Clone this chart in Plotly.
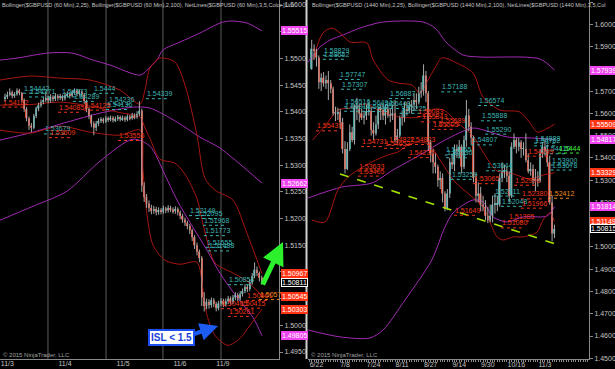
import plotly.graph_objects as go

# ================= DATA =================
# ---- Left panel: $GBPUSD 60 Min (bar index 0..107) ----
L_first_open = 1.5424
L_close = [1.5428, 1.5432, 1.5436, 1.5430, 1.5433, 1.5440, 1.5435, 1.5422, 1.5405, 1.5388,
           1.5374, 1.5370, 1.5392, 1.5406, 1.5412, 1.5418, 1.5422, 1.5426, 1.5421, 1.5428,
           1.5424, 1.5430, 1.5426, 1.5429, 1.5425, 1.5431, 1.5433, 1.5430, 1.5436, 1.5440,
           1.5434, 1.5438, 1.5432, 1.5420, 1.5405, 1.5392, 1.5378, 1.5370, 1.5378, 1.5383,
           1.5386, 1.5382, 1.5388, 1.5385, 1.5389, 1.5384, 1.5387, 1.5390, 1.5386, 1.5389,
           1.5385, 1.5391, 1.5388, 1.5393, 1.5390, 1.5396, 1.5402, 1.5262, 1.5240, 1.5228,
           1.5220, 1.5214, 1.5218, 1.5212, 1.5216, 1.5213, 1.5219, 1.5215, 1.5220, 1.5217,
           1.5214, 1.5218, 1.5212, 1.5205, 1.5198, 1.5192, 1.5186, 1.5178, 1.5165, 1.5150,
           1.5138, 1.5126, 1.5052, 1.5036, 1.5044, 1.5038, 1.5047, 1.5040, 1.5032, 1.5041,
           1.5046, 1.5039, 1.5045, 1.5050, 1.5044, 1.5052, 1.5057, 1.5050, 1.5059, 1.5064,
           1.5072, 1.5068, 1.5080, 1.5092, 1.5104, 1.5098, 1.5089, 1.5081]
L_high = [1.5434, 1.5438, 1.5444, 1.5440, 1.5437, 1.5444, 1.5443, 1.5437, 1.5425, 1.5409,
          1.5391, 1.5379, 1.5396, 1.5410, 1.5417, 1.5423, 1.5427, 1.5437, 1.5430, 1.5433,
          1.5431, 1.5435, 1.5433, 1.5434, 1.5432, 1.5436, 1.5438, 1.5437, 1.5441, 1.5444,
          1.5443, 1.5442, 1.5440, 1.5435, 1.5423, 1.5408, 1.5395, 1.5382, 1.5383, 1.5388,
          1.5390, 1.5389, 1.5392, 1.5391, 1.5393, 1.5392, 1.5391, 1.5394, 1.5393, 1.5393,
          1.5392, 1.5395, 1.5394, 1.5398, 1.5397, 1.5401, 1.5420, 1.5406, 1.5268, 1.5246,
          1.5234, 1.5226, 1.5224, 1.5222, 1.5221, 1.5220, 1.5224, 1.5222, 1.5225, 1.5224,
          1.5221, 1.5223, 1.5221, 1.5215, 1.5209, 1.5202, 1.5196, 1.5190, 1.5181, 1.5169,
          1.5155, 1.5142, 1.5130, 1.5062, 1.5050, 1.5049, 1.5052, 1.5051, 1.5044, 1.5046,
          1.5051, 1.5050, 1.5050, 1.5055, 1.5054, 1.5057, 1.5062, 1.5061, 1.5064, 1.5069,
          1.5077, 1.5076, 1.5086, 1.5098, 1.5118, 1.5110, 1.5101, 1.5093]
L_low = [1.5419, 1.5424, 1.5429, 1.5425, 1.5426, 1.5430, 1.5431, 1.5418, 1.5400, 1.5382,
         1.5366, 1.5362, 1.5367, 1.5388, 1.5401, 1.5408, 1.5414, 1.5418, 1.5416, 1.5417,
         1.5419, 1.5420, 1.5421, 1.5422, 1.5420, 1.5421, 1.5427, 1.5425, 1.5427, 1.5432,
         1.5429, 1.5430, 1.5427, 1.5415, 1.5399, 1.5386, 1.5371, 1.5356, 1.5364, 1.5373,
         1.5379, 1.5378, 1.5379, 1.5381, 1.5382, 1.5380, 1.5381, 1.5383, 1.5382, 1.5383,
         1.5381, 1.5382, 1.5384, 1.5385, 1.5386, 1.5387, 1.5392, 1.5250, 1.5231, 1.5220,
         1.5212, 1.5208, 1.5209, 1.5206, 1.5207, 1.5208, 1.5209, 1.5210, 1.5211, 1.5212,
         1.5209, 1.5209, 1.5206, 1.5199, 1.5192, 1.5186, 1.5180, 1.5171, 1.5158, 1.5143,
         1.5131, 1.5118, 1.5036, 1.5026, 1.5030, 1.5031, 1.5033, 1.5034, 1.5026, 1.5028,
         1.5036, 1.5034, 1.5035, 1.5040, 1.5039, 1.5040, 1.5047, 1.5045, 1.5046, 1.5054,
         1.5060, 1.5062, 1.5064, 1.5076, 1.5088, 1.5092, 1.5082, 1.5076]
L_date_pos = [1.0, 25.0, 49.2, 72.9, 90.8]
L_date_txt = ["11/3", "11/4", "11/5", "11/6", "11/9"]
L_sessions = [17.9, 42.1, 65.8, 90.0]

# Bollinger (2.25, 25) red and (2, 100) purple, read as (bar, price) points
L_bb25_up_x = [-2.1, 10.4, 22.9, 35.4, 47.9, 56.3, 58.3, 60.4, 64.6, 70.8, 75.0, 80.0, 83.3, 87.5, 95.0, 100.8, 107.1]
L_bb25_up_y = [1.54594, 1.54669, 1.54631, 1.54594, 1.54406, 1.54144, 1.54406, 1.54819, 1.55006, 1.54931, 1.54500, 1.53562, 1.52756, 1.52531, 1.52344, 1.51725, 1.50967]
L_bb25_mid_x = [-2.1, 10.4, 22.9, 35.4, 47.9, 56.3, 58.3, 60.4, 64.6, 70.8, 75.0, 80.0, 83.3, 87.5, 95.0, 100.8, 107.1]
L_bb25_mid_y = [1.54125, 1.54134, 1.54181, 1.54106, 1.53984, 1.53900, 1.53700, 1.53500, 1.53110, 1.53040, 1.52830, 1.52370, 1.51750, 1.51170, 1.50980, 1.50830, 1.50545]
L_bb25_lo_x = [-2.1, 10.4, 22.9, 35.4, 47.9, 56.3, 57.5, 59.2, 61.7, 66.7, 72.9, 80.0, 82.5, 84.2, 87.5, 92.9, 97.9, 102.1, 107.1]
L_bb25_lo_y = [1.53656, 1.53600, 1.53731, 1.53619, 1.53562, 1.53656, 1.52906, 1.52062, 1.51500, 1.51219, 1.51144, 1.51181, 1.50656, 1.50187, 1.49812, 1.49625, 1.49756, 1.50000, 1.50303]
L_bb100_up_x = [-2.1, 5.0, 17.9, 27.9, 36.7, 43.75, 56.25, 59.2, 63.3, 65.8, 72.9, 81.25, 89.6, 93.75, 100.8, 107.1]
L_bb100_up_y = [1.54969, 1.55006, 1.55100, 1.55100, 1.54969, 1.54875, 1.54687, 1.54781, 1.54969, 1.55156, 1.55306, 1.55475, 1.55662, 1.55700, 1.55662, 1.55515]
L_bb100_mid_x = [-2.1, 11.7, 25.8, 39.6, 53.3, 60.4, 71.7, 81.25, 89.6, 107.1]
L_bb100_mid_y = [1.53469, 1.53619, 1.53806, 1.53975, 1.54087, 1.54069, 1.53806, 1.53525, 1.53319, 1.52662]
L_bb100_lo_x = [-2.1, 11.7, 25.8, 39.6, 53.3, 60.4, 66.7, 71.7, 78.3, 84.2, 89.6, 96.7, 103.3, 107.1]
L_bb100_lo_y = [1.51969, 1.52231, 1.52512, 1.53075, 1.53487, 1.53356, 1.52812, 1.52344, 1.51837, 1.51406, 1.50975, 1.50525, 1.50150, 1.49805]

# swing labels (bar, text, kind)
L_labels = [(7.1, "1.54442", "t"), (9.6, "1.54371", "t"), (22.9, "1.54373", "t"), (36.3, "1.5444", "t"),
            (27.9, "1.54289", "t"), (42.5, "1.54236", "t"), (41.7, "1.54136", "t"), (15.8, "1.53679", "t"),
            (58.3, "1.54339", "t"), (-1.5, "1.54182", "r"), (21.7, "1.54085", "r"), (32.5, "1.54125", "r"),
            (17.9, "1.53609", "r"), (46.7, "1.53556", "r"),
            (76.3, "1.52149", "t"), (79.2, "1.52095", "t"), (82.1, "1.51968", "t"), (82.5, "1.51773", "t"),
            (83.3, "1.51555", "t"), (84.2, "1.51488", "t"), (92.5, "1.50854", "t"),
            (89.6, "1.50405", "r"), (92.5, "1.50261", "r"), (97.1, "1.50415", "r"), (100.0, "1.50561", "r"),
            (105.4, "1.50579", "o")]
# price tags on the left axis (value, kind)
L_tags = [(1.55515, "m"), (1.52662, "m"), (1.50967, "r"), (1.50811, "k"), (1.50545, "r"), (1.50303, "r"), (1.49805, "m")]

# ---- Right panel: $GBPUSD 1440 Min (daily) ----
R_dates = ["6/18", "6/19", "6/22", "6/23", "6/24", "6/25", "6/26", "6/29", "6/30", "7/1", "7/2", "7/3",
           "7/6", "7/7", "7/8", "7/9", "7/10", "7/13", "7/14", "7/15", "7/16", "7/17", "7/20", "7/21",
           "7/22", "7/23", "7/24", "7/27", "7/28", "7/29", "7/30", "7/31", "8/3", "8/4", "8/5", "8/6",
           "8/7", "8/10", "8/11", "8/12", "8/13", "8/14", "8/17", "8/18", "8/19", "8/20", "8/21", "8/24",
           "8/25", "8/26", "8/27", "8/28", "8/31", "9/1", "9/2", "9/3", "9/4", "9/7", "9/8", "9/9",
           "9/10", "9/11", "9/14", "9/15", "9/16", "9/17", "9/18", "9/21", "9/22", "9/23", "9/24", "9/25",
           "9/28", "9/29", "9/30", "10/1", "10/2", "10/5", "10/6", "10/7", "10/8", "10/9", "10/12", "10/13",
           "10/14", "10/15", "10/16", "10/19", "10/20", "10/21", "10/22", "10/23", "10/26", "10/27", "10/28", "10/29",
           "10/30", "11/2", "11/3", "11/4", "11/5", "11/6", "11/9"]
R_first_open = 1.5800
R_close = [1.5890, 1.5880, 1.5850, 1.5740, 1.5760, 1.5735, 1.5750, 1.5735, 1.5710, 1.5600, 1.5600, 1.5605,
           1.5560, 1.5440, 1.5350, 1.5440, 1.5515, 1.5480, 1.5630, 1.5620, 1.5600, 1.5580, 1.5590, 1.5610,
           1.5610, 1.5525, 1.5510, 1.5550, 1.5620, 1.5615, 1.5590, 1.5620, 1.5590, 1.5590, 1.5600, 1.5480,
           1.5500, 1.5580, 1.5580, 1.5620, 1.5610, 1.5630, 1.5640, 1.5660, 1.5650, 1.5690, 1.5700, 1.5770,
           1.5690, 1.5470, 1.5420, 1.5380, 1.5360, 1.5300, 1.5310, 1.5240, 1.5170, 1.5240, 1.5380, 1.5370,
           1.5440, 1.5430, 1.5450, 1.5360, 1.5480, 1.5590, 1.5540, 1.5490, 1.5310, 1.5230, 1.5240, 1.5190,
           1.5180, 1.5140, 1.5120, 1.5140, 1.5190, 1.5190, 1.5190, 1.5310, 1.5340, 1.5340, 1.5320, 1.5230,
           1.5450, 1.5480, 1.5450, 1.5470, 1.5440, 1.5440, 1.5390, 1.5340, 1.5350, 1.5300, 1.5300, 1.5300,
           1.5420, 1.5450, 1.5430, 1.5380, 1.5200, 1.5060, 1.5081]
R_high = [1.5930, 1.5910, 1.5890, 1.5860, 1.5780, 1.5785, 1.5770, 1.5790, 1.5750, 1.5720, 1.5630, 1.5625,
          1.5620, 1.5580, 1.5475, 1.5470, 1.5550, 1.5540, 1.5640, 1.5670, 1.5640, 1.5620, 1.5610, 1.5640,
          1.5650, 1.5630, 1.5560, 1.5590, 1.5630, 1.5640, 1.5640, 1.5640, 1.5640, 1.5620, 1.5640, 1.5660,
          1.5530, 1.5590, 1.5610, 1.5650, 1.5650, 1.5650, 1.5660, 1.5690, 1.5690, 1.5720, 1.5740, 1.5820,
          1.5790, 1.5700, 1.5480, 1.5440, 1.5420, 1.5370, 1.5340, 1.5330, 1.5250, 1.5260, 1.5400, 1.5420,
          1.5460, 1.5460, 1.5480, 1.5460, 1.5500, 1.5660, 1.5620, 1.5560, 1.5500, 1.5330, 1.5290, 1.5270,
          1.5230, 1.5210, 1.5180, 1.5190, 1.5230, 1.5240, 1.5230, 1.5330, 1.5380, 1.5370, 1.5360, 1.5340,
          1.5470, 1.5510, 1.5490, 1.5490, 1.5480, 1.5470, 1.5510, 1.5420, 1.5380, 1.5370, 1.5350, 1.5340,
          1.5440, 1.5470, 1.5480, 1.5460, 1.5410, 1.5230, 1.5100]
R_low = [1.5795, 1.5840, 1.5810, 1.5710, 1.5700, 1.5720, 1.5710, 1.5660, 1.5690, 1.5590, 1.5565, 1.5570,
         1.5530, 1.5420, 1.5330, 1.5345, 1.5430, 1.5470, 1.5460, 1.5570, 1.5560, 1.5570, 1.5550, 1.5570,
         1.5590, 1.5500, 1.5480, 1.5500, 1.5530, 1.5570, 1.5570, 1.5550, 1.5580, 1.5560, 1.5570, 1.5470,
         1.5465, 1.5490, 1.5545, 1.5560, 1.5590, 1.5600, 1.5600, 1.5610, 1.5620, 1.5640, 1.5670, 1.5680,
         1.5650, 1.5430, 1.5380, 1.5330, 1.5330, 1.5270, 1.5260, 1.5200, 1.5160, 1.5165, 1.5220, 1.5350,
         1.5340, 1.5400, 1.5400, 1.5330, 1.5350, 1.5450, 1.5520, 1.5460, 1.5290, 1.5200, 1.5200, 1.5160,
         1.5160, 1.5120, 1.5107, 1.5110, 1.5110, 1.5150, 1.5160, 1.5180, 1.5290, 1.5310, 1.5290, 1.5200,
         1.5220, 1.5440, 1.5420, 1.5430, 1.5400, 1.5410, 1.5380, 1.5330, 1.5320, 1.5280, 1.5250, 1.5270,
         1.5290, 1.5400, 1.5410, 1.5360, 1.5190, 1.5025, 1.5040]
R_tick_idx = [2, 14, 26, 38, 50, 62, 74, 86, 98]

R_bb25_up_x = [0.5, 4.7, 8.5, 11.9, 16.1, 23.2, 25.8, 32.1, 36.3, 42.1, 45.5, 48.4, 51.8, 54.7, 61.0, 67.8, 72.0, 79.1, 87.5, 91.7, 94.7, 99.3, 102.0]
R_bb25_up_y = [1.5840, 1.5961, 1.5983, 1.5961, 1.5920, 1.5916, 1.5840, 1.5750, 1.5736, 1.5727, 1.5691, 1.5741, 1.5804, 1.5849, 1.5826, 1.5781, 1.5673, 1.5615, 1.5606, 1.5557, 1.5516, 1.5534, 1.5551]
R_bb25_mid_x = [0.3, 5.6, 11.0, 16.1, 23.2, 27.8, 36.3, 45.5, 51.8, 56.0, 61.0, 67.8, 72.0, 77.9, 84.6, 91.7, 97.2, 102.0]
R_bb25_mid_y = [1.5480, 1.5543, 1.5615, 1.5624, 1.5642, 1.5615, 1.5584, 1.5584, 1.5620, 1.5611, 1.5561, 1.5498, 1.5426, 1.5341, 1.5328, 1.5305, 1.5323, 1.5333]
R_bb25_lo_x = [0.1, 5.6, 11.0, 15.3, 19.5, 25.3, 32.1, 36.3, 40.5, 45.5, 49.7, 53.9, 60.2, 66.5, 72.0, 75.0, 77.9, 80.4, 84.6, 88.8, 94.7, 97.2, 100.1, 102.0]
R_bb25_lo_y = [1.5121, 1.5112, 1.5256, 1.5314, 1.5346, 1.5382, 1.5413, 1.5427, 1.5458, 1.5471, 1.5458, 1.5391, 1.5292, 1.5233, 1.5179, 1.5108, 1.5045, 1.5031, 1.5045, 1.5045, 1.5067, 1.5121, 1.5153, 1.5115]
R_bb100_up_x = [-1.5, 3.5, 7.7, 13.2, 20.3, 30.0, 46.8, 51.8, 56.8, 63.6, 70.7, 95.9, 102.0]
R_bb100_up_y = [1.5831, 1.5898, 1.5929, 1.5952, 1.5983, 1.6010, 1.6010, 1.5983, 1.5916, 1.5862, 1.5853, 1.5844, 1.5794]
R_bb100_mid_x = [-1.5, 12.7, 25.3, 34.2, 45.5, 56.0, 67.8, 74.9, 82.1, 93.0, 102.0]
R_bb100_mid_y = [1.5220, 1.5269, 1.5287, 1.5346, 1.5413, 1.5480, 1.5534, 1.5516, 1.5494, 1.5489, 1.5482]
R_bb100_lo_x = [-1.5, 11.9, 24.5, 30.0, 39.2, 50.5, 56.0, 59.4, 67.8, 72.0, 76.2, 82.1, 88.8, 98.9, 102.0]
R_bb100_lo_y = [1.4627, 1.4596, 1.4591, 1.4627, 1.4762, 1.4942, 1.5090, 1.5153, 1.5211, 1.5202, 1.5135, 1.5112, 1.5135, 1.5139, 1.5181]

R_trend_x = [11.9, 105.2]
R_trend_y = [1.5328, 1.5004]

R_labels = [(4.3, "1.58829", "t"), (4.3, "1.58652", "t"), (11.0, "1.57747", "t"), (11.9, "1.57307", "t"),
            (13.2, "1.56516", "t"), (13.2, "1.56319", "t"), (22.5, "1.56494", "t"), (22.5, "1.56305", "t"),
            (32.1, "1.56887", "t"), (30.0, "1.56443", "t"), (36.5, "1.56225", "t"), (54.0, "1.57188", "t"),
            (69.5, "1.56574", "t"), (70.7, "1.55888", "t"), (72.5, "1.55290", "t"), (66.5, "1.54807", "t"),
            (55.5, "1.54355", "t"), (56.0, "1.54230", "t"), (58.0, "1.53259", "t"), (72.8, "1.53644", "t"),
            (93.0, "1.54888", "t"), (93.0, "1.54762", "t"), (97.1, "1.54410", "t"), (100.0, "1.53900", "t"),
            (100.0, "1.53678", "t"), (76.0, "1.52511", "t"), (79.1, "1.52048", "t"),
            (1.4, "1.55439", "r"), (20.3, "1.54731", "r"), (31.6, "1.54822", "r"), (30.0, "1.54653", "r"),
            (40.5, "1.54823", "r"), (40.0, "1.54235", "r"), (19.0, "1.53633", "r"), (19.0, "1.53405", "r"),
            (44.0, "1.56083", "r"), (45.5, "1.55843", "r"), (50.0, "1.55505", "r"), (53.0, "1.55689", "r"),
            (67.3, "1.53065", "r"), (84.6, "1.52996", "r"), (90.0, "1.54299", "r"), (87.5, "1.52380", "r"),
            (87.5, "1.51966", "r"), (82.1, "1.51385", "r"), (79.1, "1.51080", "r"), (59.4, "1.51649", "r"),
            (98.9, "1.52412", "o"), (103.1, "1.5444", "g")]
R_tags = [(1.57939, "m"), (1.55509, "r"), (1.54817, "m"), (1.53329, "r"), (1.51149, "r"), (1.51814, "m"), (1.50815, "k")]

# ================= STYLE =================
W, H = 615, 369
ML, MR, MT, MB = 0, 26, 0, 10
PW, PH = W - ML - MR, H - MT - MB
L_DOM = [0, 279 / PW]
R_DOM = [308 / PW, 1.0]
L_XR = [-2.083, 114.17]
L_YR = [1.49369, 1.56094]
R_XR = [-1.555, 116.51]
R_YR = [1.44967, 1.61090]
FONT = "Liberation Sans, Arial, sans-serif"
UP, DN, WICK = "#3f9f9f", "#dd4a36", "#a8a8a8"
RED_BAND, PUR_BAND = "#a81612", "#a22ab4"
KIND_COL = {"t": "#3db3b3", "r": "#f0361c", "o": "#f08c1a", "g": "#3af03a"}
TAG_COL = {"m": "#f044f0", "r": "#ff3414", "k": "#000000"}
AXC = "#8a8a8a"
TXT = "#c4c4c4"

fig = go.Figure()


def add_candles(opens, highs, lows, closes, xa, ya):
    n = len(closes)
    xs = list(range(n))
    wx, wy = [], []
    for i in xs:
        wx += [i, i, None]
        wy += [lows[i], highs[i], None]
    fig.add_trace(go.Scatter(x=wx, y=wy, mode="lines", line=dict(color=WICK, width=1),
                             xaxis=xa, yaxis=ya, hoverinfo="skip", showlegend=False))
    base = [min(o, c) for o, c in zip(opens, closes)]
    size = [max(abs(c - o), 0.00008 if xa == "x" else 0.0003) for o, c in zip(opens, closes)]
    cols = [UP if c >= o else DN for o, c in zip(opens, closes)]
    fig.add_trace(go.Bar(x=xs, y=size, base=base, width=0.62, marker=dict(color=cols, line_width=0),
                         xaxis=xa, yaxis=ya, hoverinfo="skip", showlegend=False))


def add_band(xv, yv, col, xa, ya):
    fig.add_trace(go.Scatter(x=xv, y=yv, mode="lines", line=dict(color=col, width=1, shape="spline", smoothing=0.8),
                             xaxis=xa, yaxis=ya, hoverinfo="skip", showlegend=False))


# bands first (behind candles)
add_band(L_bb100_up_x, L_bb100_up_y, PUR_BAND, "x", "y")
add_band(L_bb100_mid_x, L_bb100_mid_y, PUR_BAND, "x", "y")
add_band(L_bb100_lo_x, L_bb100_lo_y, PUR_BAND, "x", "y")
add_band(L_bb25_up_x, L_bb25_up_y, RED_BAND, "x", "y")
add_band(L_bb25_mid_x, L_bb25_mid_y, RED_BAND, "x", "y")
add_band(L_bb25_lo_x, L_bb25_lo_y, RED_BAND, "x", "y")
add_band(R_bb100_up_x, R_bb100_up_y, PUR_BAND, "x2", "y2")
add_band(R_bb100_mid_x, R_bb100_mid_y, PUR_BAND, "x2", "y2")
add_band(R_bb100_lo_x, R_bb100_lo_y, PUR_BAND, "x2", "y2")
add_band(R_bb25_up_x, R_bb25_up_y, RED_BAND, "x2", "y2")
add_band(R_bb25_mid_x, R_bb25_mid_y, RED_BAND, "x2", "y2")
add_band(R_bb25_lo_x, R_bb25_lo_y, RED_BAND, "x2", "y2")

L_open = [L_first_open] + L_close[:-1]
R_open = [R_first_open] + R_close[:-1]
add_candles(L_open, L_high, L_low, L_close, "x", "y")
add_candles(R_open, R_high, R_low, R_close, "x2", "y2")

# trend line (right)
fig.add_trace(go.Scatter(x=R_trend_x, y=R_trend_y, mode="lines", line=dict(color="#a6e000", width=1.6, dash="dash"),
                         xaxis="x2", yaxis="y2", hoverinfo="skip", showlegend=False))

shapes = []
annos = []

# session separators left
for s in L_sessions:
    shapes.append(dict(type="line", xref="x", yref="paper", x0=s, x1=s, y0=0, y1=1,
                       line=dict(color="#5c5c5c", width=1), layer="below"))


def add_labels(labels, xa, ya, px_per_bar, price_per_px):
    for bx, txt, kind in labels:
        col = KIND_COL[kind]
        p = float(txt)
        annos.append(dict(x=bx, y=p, xref=xa, yref=ya, text=txt, showarrow=False, xanchor="left",
                          yanchor="middle", font=dict(family=FONT, size=7, color=col)))
        shapes.append(dict(type="line", xref=xa, yref=ya, x0=bx + 0.4, x1=bx + 22 / px_per_bar,
                           y0=p - 5 * price_per_px, y1=p - 5 * price_per_px,
                           line=dict(color=col, width=1, dash="dot")))


add_labels(L_labels, "x", "y", 2.4, (L_YR[1] - L_YR[0]) / PH)
add_labels(R_labels, "x2", "y2", 2.38, (R_YR[1] - R_YR[0]) / PH)


def add_tags(tags, ya, xpaper):
    for v, kind in tags:
        annos.append(dict(x=xpaper, y=v, xref="paper", yref=ya, text=f"{v:.5f}", showarrow=False,
                          xanchor="left", yanchor="middle", bgcolor=TAG_COL[kind],
                          bordercolor="#ffffff" if kind == "k" else TAG_COL[kind], borderwidth=1, borderpad=0,
                          font=dict(family=FONT, size=7, color="#ffffff")))


add_tags(L_tags, "y", 281 / PW)
add_tags(R_tags, "y2", 1.0 + 1 / PW)

# headers
annos.append(dict(x=0, y=1, xref="paper", yref="paper", xanchor="left", yanchor="top", showarrow=False,
                  text="Bollinger($GBPUSD (60 Min),2,25), Bollinger($GBPUSD (60 Min),2,100), NetLines($GBPUSD (60 Min),3,5,Color [Lim",
                  font=dict(family=FONT, size=5.6, color=TXT)))
annos.append(dict(x=310 / PW, y=1, xref="paper", yref="paper", xanchor="left", yanchor="top", showarrow=False,
                  text="Bollinger($GBPUSD (1440 Min),2,25), Bollinger($GBPUSD (1440 Min),2,100), NetLines($GBPUSD (1440 Min),3,5,Col",
                  font=dict(family=FONT, size=5.6, color=TXT)))
for xp in (1 / PW, 309 / PW):
    annos.append(dict(x=xp, y=4 / PH, xref="paper", yref="paper", xanchor="left", yanchor="middle", showarrow=False,
                      text="© 2015 NinjaTrader, LLC", font=dict(family=FONT, size=6, color="#a0a0a0")))

# green arrow
annos.append(dict(x=283 / PW, y=1 - 242 / PH, xref="paper", yref="paper", ax=-21, ay=44, showarrow=True,
                  arrowhead=2, arrowsize=0.9, arrowwidth=5, arrowcolor="#2cf02c", text="",
                  xanchor="center", yanchor="middle", standoff=0, startstandoff=0))
# blue arrow + callout
annos.append(dict(x=218 / PW, y=1 - 326 / PH, xref="paper", yref="paper", ax=-27, ay=9, showarrow=True,
                  arrowhead=2, arrowsize=0.9, arrowwidth=4, arrowcolor="#1d5cf2", text="",
                  xanchor="center", yanchor="middle", standoff=0, startstandoff=0))
annos.append(dict(x=171 / PW, y=1 - 337 / PH, xref="paper", yref="paper", showarrow=False,
                  xanchor="center", yanchor="middle",
                  text="<b>ISL &lt; 1.5</b>", bgcolor="#ffffff", bordercolor="#1d4ff0", borderwidth=2, borderpad=1,
                  font=dict(family=FONT, size=10, color="#1a3ed8")))

# separator between panels
shapes.append(dict(type="line", xref="paper", yref="paper", x0=306.5 / PW, x1=306.5 / PW, y0=0, y1=1,
                   line=dict(color="#d0d0d0", width=2)))

axis_common = dict(showgrid=False, zeroline=False, showline=True, linecolor=AXC, linewidth=1,
                   tickfont=dict(family=FONT, size=7, color=TXT), fixedrange=True)

fig.update_layout(
    width=W, height=H, margin=dict(l=ML, r=MR, t=MT, b=MB, autoexpand=False),
    paper_bgcolor="#000000", plot_bgcolor="#000000", showlegend=False, barmode="overlay",
    xaxis=dict(domain=L_DOM, range=L_XR, anchor="y", tickvals=L_date_pos, ticktext=L_date_txt,
               ticks="", ticklabelstandoff=-2, **axis_common),
    yaxis=dict(domain=[0, 1], range=L_YR, anchor="x", side="right", dtick=0.005, tick0=1.5,
               tickformat=".4f", ticks="outside", ticklen=3, tickcolor=AXC, **axis_common),
    xaxis2=dict(domain=R_DOM, range=R_XR, anchor="y2", tickvals=R_tick_idx,
                ticktext=[R_dates[i] for i in R_tick_idx], ticks="outside", ticklen=2, tickcolor=AXC,
                ticklabelstandoff=-3,
                minor=dict(dtick=1, tick0=0, ticks="outside", ticklen=2, tickcolor=AXC), **axis_common),
    yaxis2=dict(domain=[0, 1], range=R_YR, anchor="x2", side="right", dtick=0.01, tick0=1.5,
                tickformat=".4f", ticks="outside", ticklen=3, tickcolor=AXC, **axis_common),
    shapes=shapes, annotations=annos,
)

fig.write_html("out.html", config=dict(displayModeBar=False))
